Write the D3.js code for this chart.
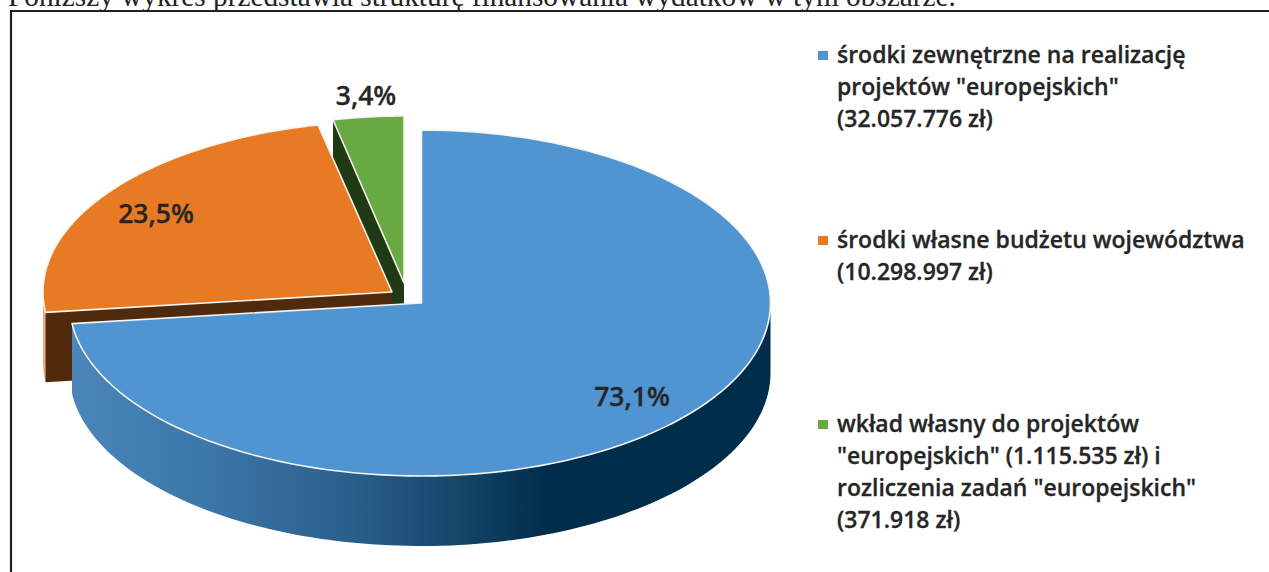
<!DOCTYPE html>
<html>
<head>
<meta charset="utf-8">
<script src="https://d3js.org/d3.v7.min.js"></script>
<style>
    html, body { margin: 0; padding: 0; background: white; overflow: hidden; }
    svg { display: block; }
</style>
</head>
<body>
<svg id="chart" width="1269" height="572"></svg>
<script>
    const caption = "Poniższy wykres przedstawia strukturę finansowania wydatków w tym obszarze.";
    const sliceNames = ["zewnetrzne", "wlasne", "wklad"];
    const sliceValues = [73.1, 23.5, 3.4];
    const sliceLabels = ["73,1%", "23,5%", "3,4%"];
    const legendLines = [
        ["środki zewnętrzne na realizację", "projektów \"europejskich\"", "(32.057.776 zł)"],
        ["środki własne budżetu województwa", "(10.298.997 zł)"],
        ["wkład własny do projektów", "\"europejskich\" (1.115.535 zł) i", "rozliczenia zadań \"europejskich\"", "(371.918 zł)"]
    ];
    const topColors = ["#5094d1", "#e87a24", "#69a942"];
    const wallColors = ["#002d4a", "#4f2a0c", "#203a16"];

    const svg = d3.select("#chart");
    const labelFont = "'Open Sans', sans-serif";

    // frame and the line of text cut off above it
    svg.append("text")
        .attr("x", 8).attr("y", 6)
        .attr("font-family", "'Liberation Serif', serif")
        .attr("font-size", 29.3)
        .attr("fill", "#222")
        .text(caption);

    svg.append("path")
        .attr("d", "M11,572V11H1269")
        .attr("fill", "none")
        .attr("stroke", "#231f20")
        .attr("stroke-width", 2.2);

    // blue side gets the dark shading from left to right
    const grad = svg.append("defs").append("linearGradient")
        .attr("id", "blueWall")
        .attr("gradientUnits", "userSpaceOnUse")
        .attr("x1", 72).attr("x2", 770).attr("y1", 0).attr("y2", 0);
    grad.selectAll("stop")
        .data([[0, "#4a86ba"], [0.2, "#3b76a8"], [0.4, "#2a5f8b"], [0.56, "#134568"], [0.68, "#002d4a"], [1, "#002d4a"]])
        .join("stop")
        .attr("offset", d => d[0])
        .attr("stop-color", d => d[1]);

    // each slice has its own apex since the pie is exploded,
    // the picture has a bit of perspective so the left half of the blue one is wider
    const layout = [
        { cx: 421.5, cy: 303, rx: 349, rxLeft: 352, ry: 173 },
        { cx: 392, cy: 292, rx: 349, rxLeft: 349, ry: 171 },
        { cx: 404, cy: 283, rx: 335, rxLeft: 335, ry: 167 }
    ];
    const depth = 70;

    const pie = d3.pie().sort(null);
    const arcs = pie(sliceValues);

    function pointAt(i, angle, down) {
        let { cx, cy, rx, rxLeft, ry } = layout[i];
        let s = Math.sin(angle);
        return [cx + (s > 0 ? rx : rxLeft) * s, cy - ry * Math.cos(angle) + (down || 0)];
    }

    function rimPoints(i, a0, a1, down) {
        return d3.range(0, 121).map(k => pointAt(i, a0 + (a1 - a0) * k / 120, down));
    }

    // wall along the rim between two angles
    function rimWall(i, a0, a1) {
        let upper = rimPoints(i, a0, a1, 0);
        let lower = rimPoints(i, a1, a0, depth);
        return d3.line()(upper.concat(lower)) + "Z";
    }

    // flat wall from the apex out to the rim
    function cutWall(i, angle) {
        let { cx, cy } = layout[i];
        let rim = pointAt(i, angle, 0);
        return d3.line()([[cx, cy], rim, [rim[0], rim[1] + depth], [cx, cy + depth]]) + "Z";
    }

    function drawTop(i) {
        let { cx, cy } = layout[i];
        let outline = [[cx, cy]].concat(rimPoints(i, arcs[i].startAngle, arcs[i].endAngle, 0));
        svg.append("path")
            .attr("d", d3.line()(outline) + "Z")
            .attr("fill", topColors[i])
            .attr("stroke", "#f4f4f0")
            .attr("stroke-width", 1.6)
            .attr("stroke-linejoin", "round");
    }

    // back to front: green, orange, blue
    svg.append("path").attr("d", cutWall(2, arcs[2].startAngle)).attr("fill", wallColors[2]);
    drawTop(2);

    svg.append("path").attr("d", rimWall(1, arcs[1].startAngle, 1.5 * Math.PI)).attr("fill", "#f3a76c");
    svg.append("path").attr("d", cutWall(1, arcs[1].startAngle)).attr("fill", wallColors[1]);
    drawTop(1);

    svg.append("path").attr("d", rimWall(0, Math.PI / 2, arcs[0].endAngle)).attr("fill", "url(#blueWall)");
    drawTop(0);

    // value labels
    const labelX = [632, 156, 366];
    const labelY = [406, 223, 105];
    svg.selectAll(".valueLabel")
        .data(sliceLabels)
        .join("text")
        .attr("class", "valueLabel")
        .attr("x", (d, i) => labelX[i])
        .attr("y", (d, i) => labelY[i])
        .attr("text-anchor", "middle")
        .attr("font-family", labelFont)
        .attr("font-weight", 600)
        .attr("font-size", 26.5)
        .attr("fill", "#262626")
        .attr("stroke", "#262626")
        .attr("stroke-width", 0.3)
        .text(d => d);

    // legend
    const legendTop = [63, 248, 432];
    const lineStep = 32;
    const legend = svg.selectAll(".legendItem")
        .data(legendLines)
        .join("g")
        .attr("class", "legendItem")
        .attr("transform", (d, i) => `translate(818,${legendTop[i]})`);

    legend.append("rect")
        .attr("y", -12)
        .attr("width", 10)
        .attr("height", 9)
        .attr("fill", (d, i) => topColors[i]);

    legend.selectAll("text")
        .data(d => d)
        .join("text")
        .attr("x", 19)
        .attr("y", (d, i) => i * lineStep)
        .attr("font-family", labelFont)
        .attr("font-weight", 600)
        .attr("font-size", 23)
        .attr("fill", "#262626")
        .attr("stroke", "#262626")
        .attr("stroke-width", 0.3)
        .text(d => d);
</script>
</body>
</html>
